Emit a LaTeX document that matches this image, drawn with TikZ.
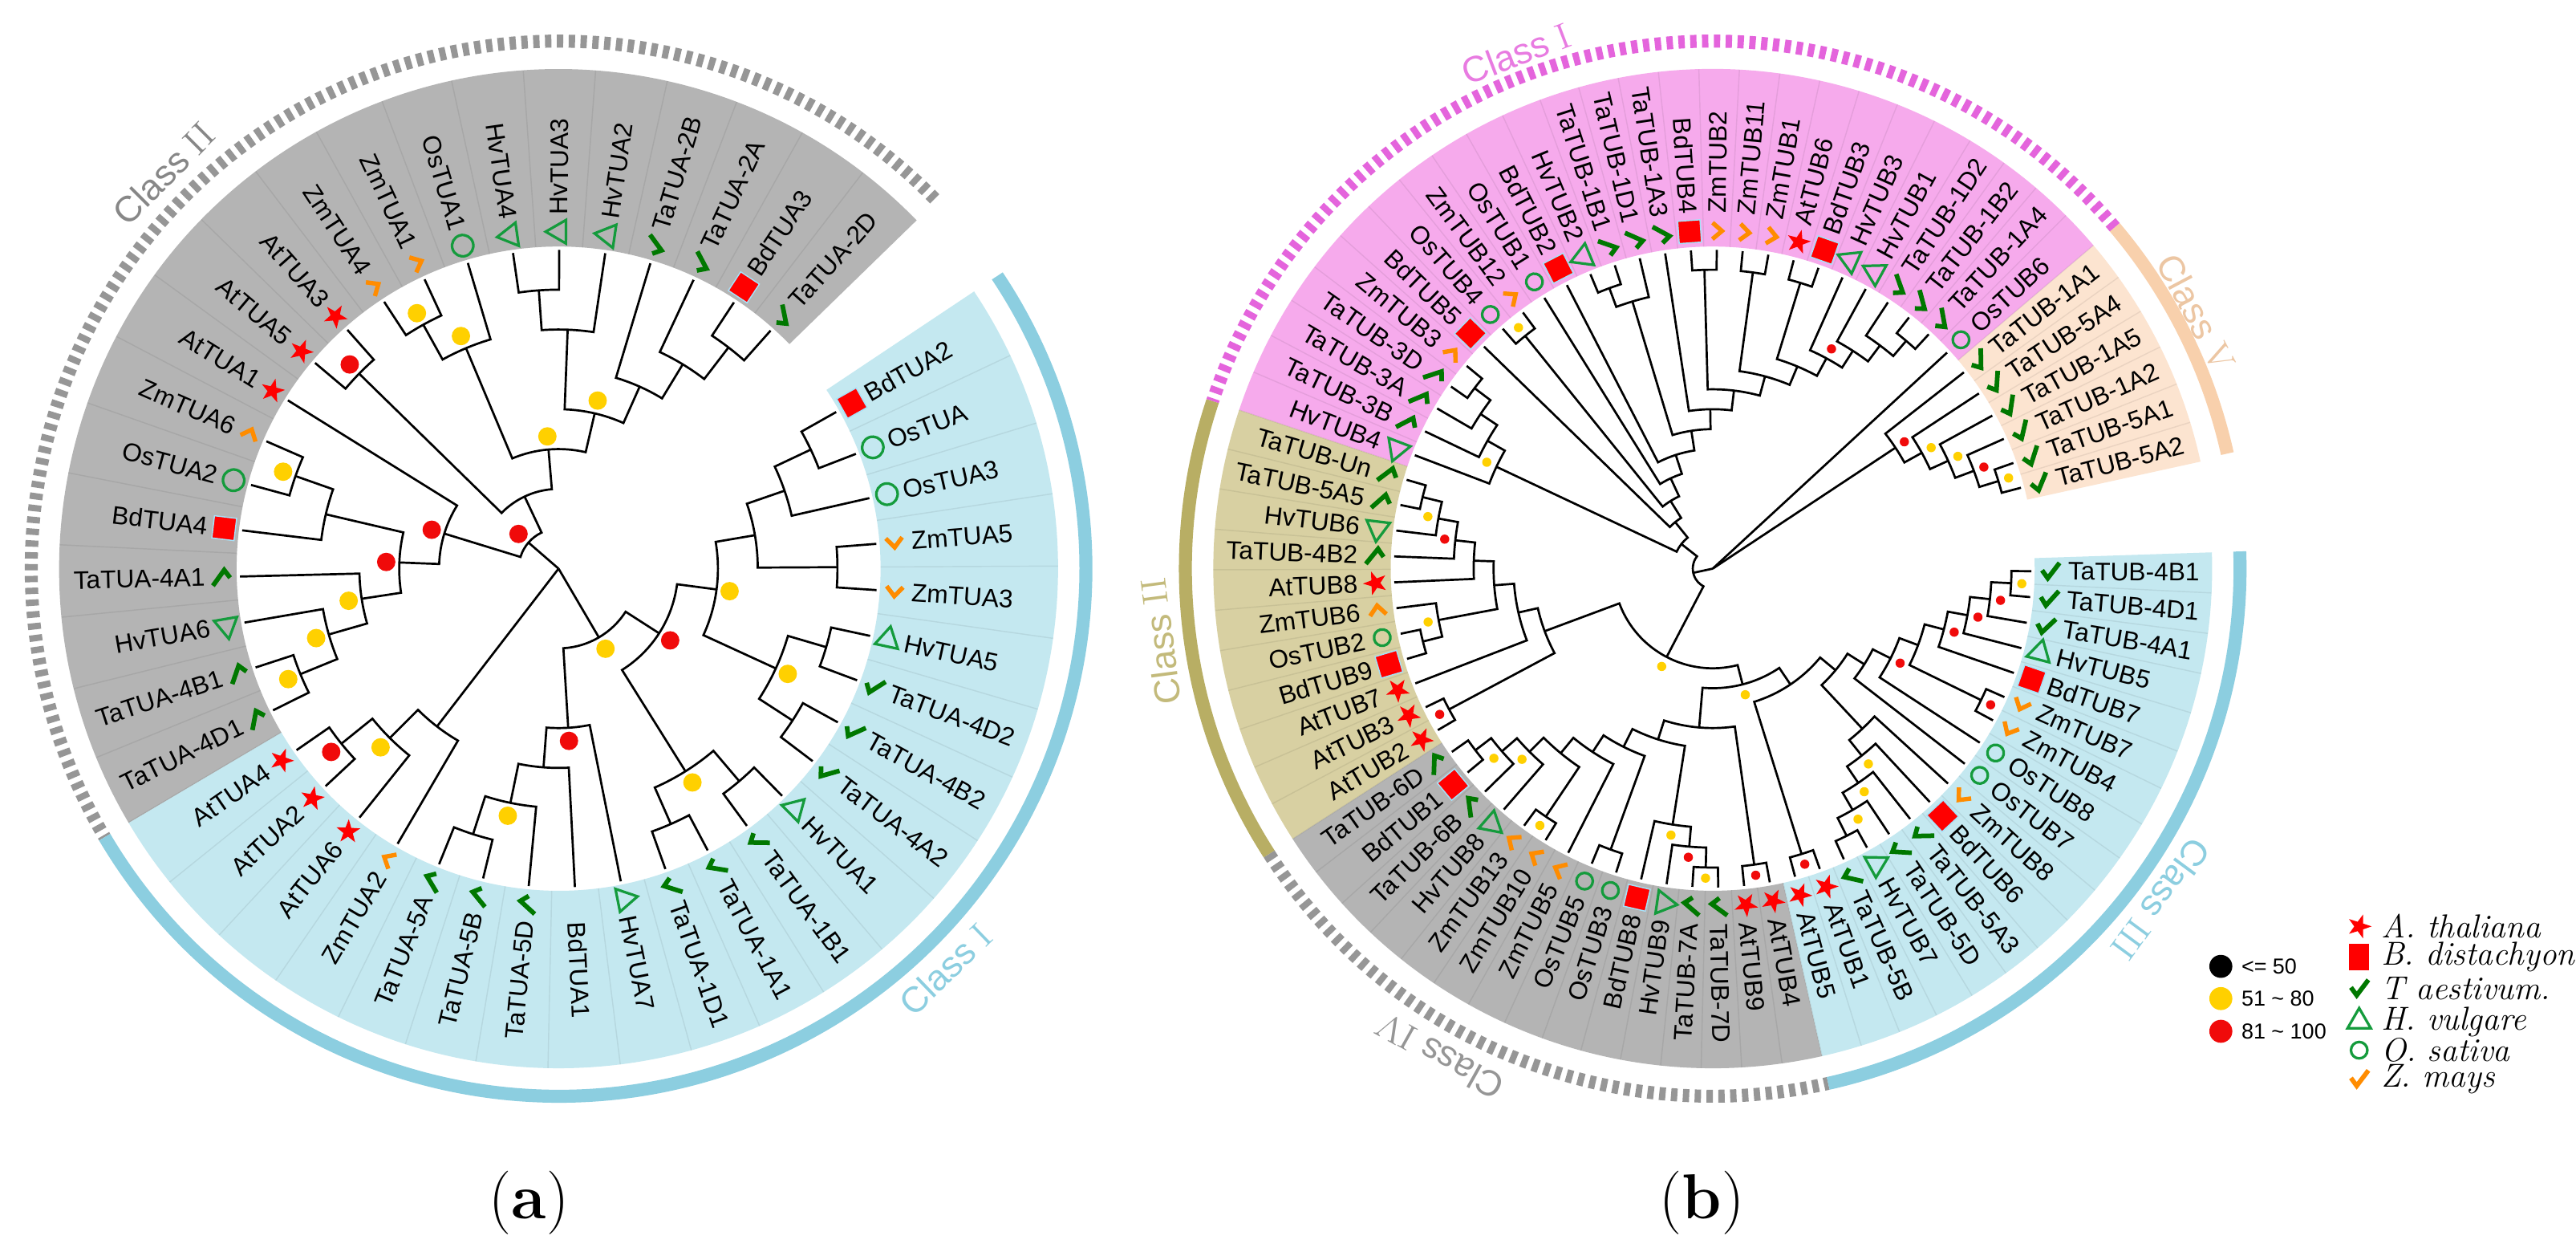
\documentclass[tikz,border=0pt]{standalone}
\usepackage{fontspec}
\newfontfamily\lab{Liberation Sans}
\usetikzlibrary{shapes.geometric}
\definecolor{mred}{RGB}{255,0,0}
\definecolor{mgreen}{RGB}{0,120,0}
\definecolor{ogreen}{RGB}{20,155,60}
\definecolor{morange}{RGB}{255,140,0}
\definecolor{dyel}{RGB}{255,208,0}
\definecolor{dred}{RGB}{240,10,10}
\definecolor{secgray}{RGB}{180,180,180}
\definecolor{secblue}{RGB}{196,232,240}
\definecolor{ringblue}{RGB}{140,206,224}
\definecolor{ringgray}{RGB}{150,150,150}
\definecolor{secpink}{RGB}{246,170,236}
\definecolor{ringpink}{RGB}{228,100,220}
\definecolor{secpeach}{RGB}{252,228,208}
\definecolor{ringpeach}{RGB}{248,208,172}
\definecolor{secolive}{RGB}{216,208,162}
\definecolor{ringolive}{RGB}{184,174,100}
\tikzset{
 br/.style={line width=0.75pt, line join=miter},
 lbl/.style={font=\lab\fontsize{8.8}{10}\selectfont, inner sep=0pt},
 sepl/.style={black, opacity=0.07, line width=0.4pt},
 cls/.style={font=\lab\fontsize{12.5}{14}\selectfont, inner sep=0pt},
 leg/.style={font=\lab\fontsize{7.5}{8}\selectfont, inner sep=0pt, anchor=west},
 spc/.style={font=\itshape\fontsize{11.5}{13}\selectfont, inner sep=0pt, anchor=west}
}
\newcommand\setleaf[2]{\expandafter\xdef\csname A@#1\endcsname{#2}\expandafter\xdef\csname H@#1\endcsname{0}}
\newcommand\mkchk{\draw[mgreen, line width=1.6pt, line join=miter] (-5,0.6) -- (-1.5,-4.2) -- (5.6,5.2);}
\newcommand\mkorg{\draw[morange, line width=1.5pt, line join=miter] (-5,2.8) -- (0,-3) -- (5,2.8);}
\newcommand\mkstar{\fill[mred] (0:7.6) -- (36:3) -- (72:7.6) -- (108:3) -- (144:7.6) -- (180:3) -- (216:7.6) -- (252:3) -- (288:7.6) -- (324:3) -- cycle;}
\newcommand\mksq{\fill[mred, draw=cyan!35, line width=0.4pt] (-6.8,-6.8) rectangle (6.8,6.8);}
\newcommand\mktri{\draw[ogreen, line width=0.9pt, line join=miter] (90:8.2) -- (210:8.2) -- (330:8.2) -- cycle;}
\newcommand\mkcirc{\draw[ogreen, line width=0.9pt] (0,0) circle[radius=\circr];}
\newcommand\mknone{}
\newcommand\mk[2]{\begin{scope}[shift={(#2:\Mr)},rotate=#2]\csname mk#1\endcsname\end{scope}}
\newcommand\lf[4]{%
  \pgfmathsetmacro\lfa{\Astart+\Astep*#2}%
  \setleaf{#1}{\lfa}%
  \coordinate (#1) at (\lfa:\Tip);%
  \mk{#4}{\lfa}%
  \pgfmathsetmacro\lfm{mod(\lfa,360)}%
  \pgfmathtruncatemacro\lff{and(\lfm>90,\lfm<\FlipHi)}%
  \ifnum\lff=1
    \pgfmathsetmacro\lfr{\lfm-180}%
    \node[lbl,anchor=east,rotate=\lfr] (t#1) at (\lfm:\Lr) {#3};%
  \else
    \node[lbl,anchor=west,rotate=\lfm] (t#1) at (\lfm:\Lr) {#3};%
  \fi}
\newcommand\jn[4][]{%
  \pgfmathsetmacro\jaa{\csname A@#3\endcsname}%
  \pgfmathsetmacro\jab{\csname A@#4\endcsname}%
  \pgfmathsetmacro\jha{\csname H@#3\endcsname}%
  \pgfmathsetmacro\jhb{\csname H@#4\endcsname}%
  \pgfmathsetmacro\jhn{max(\jha,\jhb)+1}%
  \pgfmathsetmacro\jrn{(\Hmax-\jhn)*\Unit}%
  \pgfmathsetmacro\jra{(\Hmax-\jha)*\Unit}%
  \pgfmathsetmacro\jrb{(\Hmax-\jhb)*\Unit}%
  \pgfmathsetmacro\jan{(\jaa+\jab)/2}%
  \draw[br] (\jaa:\jra) -- (\jaa:\jrn) arc[start angle=\jaa, end angle=\jab, radius=\jrn] -- (\jab:\jrb);%
  \coordinate (#2) at (\jan:\jrn);%
  \expandafter\xdef\csname A@#2\endcsname{\jan}%
  \expandafter\xdef\csname H@#2\endcsname{\jhn}%
  \if\relax\detokenize{#1}\relax\else
    \pgfmathsetmacro\jrd{\jrn+\Doff}%
    \fill[#1] (\jan:\jrd) circle[radius=\Drad];%
  \fi}
\newcommand\sector[3]{\fill[#1] (#2:196) arc[start angle=#2,end angle=#3,radius=196] -- (#3:304) arc[start angle=#3,end angle=#2,radius=304] -- cycle;}
\newcommand\ringsolid[3]{\draw[#1, line width=4.5pt] (#2:321) arc[start angle=#2,end angle=#3,radius=321];}
\newcommand\ringdash[3]{\draw[#1, line width=4.5pt, dash pattern=on 2.2pt off 1.9pt] (#2:321) arc[start angle=#2,end angle=#3,radius=321];}

\begin{document}
\begin{tikzpicture}[x=0.02cm,y=0.02cm]
\useasboundingbox (0,0) rectangle (1568,764);
\fill[white] (0,0) rectangle (1568,764);

%================ TREE (a) =================
\begin{scope}[shift={(340,418)}]
\def\Hmax{8}\def\Unit{24.25}\def\Tip{194}\def\Mr{205}\def\Lr{215}\def\FlipHi{270}
\def\Doff{8}\def\Drad{5.6}\def\circr{6.5}
\def\Astart{48.3}\def\Astep{8.32}
\sector{secgray}{44.2}{210.6}
\sector{secblue}{210.6}{393.7}
\foreach \i in {0,...,40} {\pgfmathsetmacro\sa{48.3+8.32*(\i+0.5)}\draw[sepl] (\sa:196) -- (\sa:304);}
\ringdash{ringgray}{44.5}{210.6}
\ringsolid{ringblue}{210.6}{393.7}
\node[cls, text=ringgray!90!black, rotate=45] (clsA2) at (135:340) {Class {\rmfamily II}};
\node[cls, text=ringblue, rotate=44] (clsA1) at (-46:339) {Class {\rmfamily I}};
\coordinate (aroot) at (0,0);
\lf{a0}{0}{TaTUA-2D}{chk}
\lf{a1}{1}{BdTUA3}{sq}
\lf{a2}{2}{TaTUA-2A}{chk}
\lf{a3}{3}{TaTUA-2B}{chk}
\lf{a4}{4}{HvTUA2}{tri}
\lf{a5}{5}{HvTUA3}{tri}
\lf{a6}{6}{HvTUA4}{tri}
\lf{a7}{7}{OsTUA1}{circ}
\lf{a8}{8}{ZmTUA1}{org}
\lf{a9}{9}{ZmTUA4}{org}
\lf{a10}{10}{AtTUA3}{star}
\lf{a11}{11}{AtTUA5}{star}
\lf{a12}{12}{AtTUA1}{star}
\lf{a13}{13}{ZmTUA6}{org}
\lf{a14}{14}{OsTUA2}{circ}
\lf{a15}{15}{BdTUA4}{sq}
\lf{a16}{16}{TaTUA-4A1}{chk}
\lf{a17}{17}{HvTUA6}{tri}
\lf{a18}{18}{TaTUA-4B1}{chk}
\lf{a19}{19}{TaTUA-4D1}{chk}
\lf{a20}{20}{AtTUA4}{star}
\lf{a21}{21}{AtTUA2}{star}
\lf{a22}{22}{AtTUA6}{star}
\lf{a23}{23}{ZmTUA2}{org}
\lf{a24}{24}{TaTUA-5A}{chk}
\lf{a25}{25}{TaTUA-5B}{chk}
\lf{a26}{26}{TaTUA-5D}{chk}
\lf{a27}{27}{BdTUA1}{none}
\lf{a28}{28}{HvTUA7}{tri}
\lf{a29}{29}{TaTUA-1D1}{chk}
\lf{a30}{30}{TaTUA-1A1}{chk}
\lf{a31}{31}{TaTUA-1B1}{chk}
\lf{a32}{32}{HvTUA1}{tri}
\lf{a33}{33}{TaTUA-4A2}{chk}
\lf{a34}{34}{TaTUA-4B2}{chk}
\lf{a35}{35}{TaTUA-4D2}{chk}
\lf{a36}{36}{HvTUA5}{tri}
\lf{a37}{37}{ZmTUA3}{org}
\lf{a38}{38}{ZmTUA5}{org}
\lf{a39}{39}{OsTUA3}{circ}
\lf{a40}{40}{OsTUA}{circ}
\lf{a41}{41}{BdTUA2}{sq}
\jn[dred]{aAt35}{a10}{a11}
\jn[dyel]{aZm14}{a8}{a9}
\jn[dyel]{aOZ}{a7}{aZm14}
\jn{aHv34}{a5}{a6}
\jn{aL}{aHv34}{a4}
\jn{aBd3}{a0}{a1}
\jn{aT2A}{a2}{aBd3}
\jn{aT2B}{a3}{aT2A}
\jn[dyel]{aHT}{aL}{aT2B}
\jn[dyel]{aY2}{aOZ}{aHT}
\jn{aQ}{aAt35}{aY2}
\jn[dyel]{aY1}{a13}{a14}
\jn{aNBd4}{aY1}{a15}
\jn[dyel]{aN4B1}{a18}{a19}
\jn[dyel]{aNHv6}{a17}{aN4B1}
\jn[dyel]{aN4A1}{a16}{aNHv6}
\jn[dred]{aR3}{aNBd4}{aN4A1}
\jn[dred]{aR2}{a12}{aR3}
\jn[dred]{aR1}{aQ}{aR2}
\jn[dred]{aS1}{a20}{a21}
\jn[dyel]{aS2}{aS1}{a22}
\jn{aS}{aS2}{a23}
\jn{a5AB}{a24}{a25}
\jn[dyel]{a5D}{a5AB}{a26}
\jn{aC1a}{a5D}{a27}
\jn[dred]{aC1}{aC1a}{a28}
\jn{a1DA}{a29}{a30}
\jn{a1BH}{a31}{a32}
\jn[dyel]{aC3}{a1DA}{a1BH}
\jn{a4BA}{a33}{a34}
\jn{a4DH}{a35}{a36}
\jn[dyel]{aC5}{a4BA}{a4DH}
\jn{aZm35}{a37}{a38}
\jn{aBdOs}{a40}{a41}
\jn{aOs3}{a39}{aBdOs}
\jn{aOZm}{aOs3}{aZm35}
\jn[dyel]{aC4}{aOZm}{aC5}
\jn[dred]{aC2}{aC3}{aC4}
\jn[dyel]{aN1}{aC1}{aC2}
\draw[br] (aroot) -- (aR1);
\draw[br] (aroot) -- (aS);
\draw[br] (aroot) -- (aN1);
\end{scope}

%================ TREE (b) =================
\begin{scope}[shift={(1042.5,418)}]
\def\Hmax{16}\def\Unit{12.125}\def\Tip{194}\def\Mr{205.5}\def\Lr{216}\def\FlipHi{270}
\def\Doff{6.5}\def\Drad{2.8}\def\circr{5}
\def\Astart{14.7}\def\Astep{4.66}
\sector{secpeach}{12.37}{40.33}
\sector{secpink}{40.33}{161.49}
\sector{secolive}{161.49}{212.75}
\sector{secgray}{212.75}{282.65}
\sector{secblue}{282.65}{361.87}
\foreach \i in {0,...,73} {\pgfmathsetmacro\sa{14.7+4.66*(\i+0.5)}\draw[sepl] (\sa:196) -- (\sa:304);}
\ringsolid{ringpeach}{12.6}{40.33}
\ringdash{ringpink}{40.33}{161.49}
\ringsolid{ringolive}{161.49}{212.75}
\ringdash{ringgray}{212.75}{282.65}
\ringsolid{ringblue}{282.65}{361.87}
\node[cls, text=ringpink!85!white, rotate=20.9] (clsB1) at (110.9:335.5) {Class {\rmfamily I}};
\node[cls, text=ringpeach!95!black, rotate=-62.1] (clsB5) at (27.9:333) {Class {\rmfamily V}};
\node[cls, text=ringblue, rotate=-126.4] (clsB3) at (-36.4:339) {Class {\rmfamily III}};
\node[cls, text=ringgray, rotate=150.8] (clsB4) at (240.8:340) {Class {\rmfamily IV}};
\node[cls, text=ringolive!85!white, rotate=97.5] (clsB2) at (187.5:339) {Class {\rmfamily II}};
\coordinate (broot) at (0,0);
\lf{b0}{0}{TaTUB-5A2}{chk}
\lf{b1}{1}{TaTUB-5A1}{chk}
\lf{b2}{2}{TaTUB-1A2}{chk}
\lf{b3}{3}{TaTUB-1A5}{chk}
\lf{b4}{4}{TaTUB-5A4}{chk}
\lf{b5}{5}{TaTUB-1A1}{chk}
\lf{b6}{6}{OsTUB6}{circ}
\lf{b7}{7}{TaTUB-1A4}{chk}
\lf{b8}{8}{TaTUB-1B2}{chk}
\lf{b9}{9}{TaTUB-1D2}{chk}
\lf{b10}{10}{HvTUB1}{tri}
\lf{b11}{11}{HvTUB3}{tri}
\lf{b12}{12}{BdTUB3}{sq}
\lf{b13}{13}{AtTUB6}{star}
\lf{b14}{14}{ZmTUB1}{org}
\lf{b15}{15}{ZmTUB11}{org}
\lf{b16}{16}{ZmTUB2}{org}
\lf{b17}{17}{BdTUB4}{sq}
\lf{b18}{18}{TaTUB-1A3}{chk}
\lf{b19}{19}{TaTUB-1D1}{chk}
\lf{b20}{20}{TaTUB-1B1}{chk}
\lf{b21}{21}{HvTUB2}{tri}
\lf{b22}{22}{BdTUB2}{sq}
\lf{b23}{23}{OsTUB1}{circ}
\lf{b24}{24}{ZmTUB12}{org}
\lf{b25}{25}{OsTUB4}{circ}
\lf{b26}{26}{BdTUB5}{sq}
\lf{b27}{27}{ZmTUB3}{org}
\lf{b28}{28}{TaTUB-3D}{chk}
\lf{b29}{29}{TaTUB-3A}{chk}
\lf{b30}{30}{TaTUB-3B}{chk}
\lf{b31}{31}{HvTUB4}{tri}
\lf{b32}{32}{TaTUB-Un}{chk}
\lf{b33}{33}{TaTUB-5A5}{chk}
\lf{b34}{34}{HvTUB6}{tri}
\lf{b35}{35}{TaTUB-4B2}{chk}
\lf{b36}{36}{AtTUB8}{star}
\lf{b37}{37}{ZmTUB6}{org}
\lf{b38}{38}{OsTUB2}{circ}
\lf{b39}{39}{BdTUB9}{sq}
\lf{b40}{40}{AtTUB7}{star}
\lf{b41}{41}{AtTUB3}{star}
\lf{b42}{42}{AtTUB2}{star}
\lf{b43}{43}{TaTUB-6D}{chk}
\lf{b44}{44}{BdTUB1}{sq}
\lf{b45}{45}{TaTUB-6B}{chk}
\lf{b46}{46}{HvTUB8}{tri}
\lf{b47}{47}{ZmTUB13}{org}
\lf{b48}{48}{ZmTUB10}{org}
\lf{b49}{49}{ZmTUB5}{org}
\lf{b50}{50}{OsTUB5}{circ}
\lf{b51}{51}{OsTUB3}{circ}
\lf{b52}{52}{BdTUB8}{sq}
\lf{b53}{53}{HvTUB9}{tri}
\lf{b54}{54}{TaTUB-7A}{chk}
\lf{b55}{55}{TaTUB-7D}{chk}
\lf{b56}{56}{AtTUB9}{star}
\lf{b57}{57}{AtTUB4}{star}
\lf{b58}{58}{AtTUB5}{star}
\lf{b59}{59}{AtTUB1}{star}
\lf{b60}{60}{TaTUB-5B}{chk}
\lf{b61}{61}{HvTUB7}{tri}
\lf{b62}{62}{TaTUB-5D}{chk}
\lf{b63}{63}{TaTUB-5A3}{chk}
\lf{b64}{64}{BdTUB6}{sq}
\lf{b65}{65}{ZmTUB8}{org}
\lf{b66}{66}{OsTUB7}{circ}
\lf{b67}{67}{OsTUB8}{circ}
\lf{b68}{68}{ZmTUB4}{org}
\lf{b69}{69}{ZmTUB7}{org}
\lf{b70}{70}{BdTUB7}{sq}
\lf{b71}{71}{HvTUB5}{tri}
\lf{b72}{72}{TaTUB-4A1}{chk}
\lf{b73}{73}{TaTUB-4D1}{chk}
\lf{b74}{74}{TaTUB-4B1}{chk}
\jn[dyel]{bV1}{b0}{b1}
\jn[dred]{bV2}{b2}{bV1}
\jn[dyel]{bV3}{b3}{bV2}
\jn[dyel]{bV4}{b4}{bV3}
\jn[dred]{bV5}{b5}{bV4}
\jn{bb1}{b7}{b8}
\jn{bb2}{b9}{bb1}
\jn{bb3}{b10}{bb2}
\jn[dred]{bb4}{b11}{bb3}
\jn{bb5}{b12}{b13}
\jn{bb6}{bb4}{bb5}
\jn{bb7}{b14}{b15}
\jn{bb8}{bb7}{bb6}
\jn{bb9}{b16}{b17}
\jn{bb10}{bb9}{bb8}
\jn{bb11}{b18}{bb10}
\jn{bb12}{b20}{b21}
\jn{bb13}{b19}{bb12}
\jn{bb14}{bb13}{bb11}
\jn{bb15}{b22}{bb14}
\jn{bb16}{b23}{bb15}
\jn[dyel]{bb17}{b24}{b25}
\jn{bb18}{bb17}{bb16}
\jn{bb19}{b26}{bb18}
\jn{bc1}{b27}{b28}
\jn{bc2}{b29}{bc1}
\jn{bc3}{b30}{bc2}
\jn[dyel]{bc4}{b31}{bc3}
\jn{bb20}{bc4}{bb19}
\jn{bII15}{b32}{b33}
\jn[dyel]{bII14}{b34}{bII15}
\jn[dred]{bII13}{b35}{bII14}
\jn{bII12}{b36}{bII13}
\jn{bOB}{b38}{b39}
\jn[dyel]{bN14}{b37}{bOB}
\jn{bII11}{bII12}{bN14}
\jn{bII10}{b40}{bII11}
\jn[dred]{bAA}{b41}{b42}
\jn{bII9}{bII10}{bAA}
\jn{bA1}{b43}{b44}
\jn[dyel]{bA2}{bA1}{b45}
\jn[dyel]{bA3}{bA2}{b46}
\jn[dyel]{bZZ}{b47}{b48}
\jn{bA4}{bA3}{bZZ}
\jn{bA5}{bA4}{b49}
\jn{bOO}{b50}{b51}
\jn{bA6}{bA5}{bOO}
\jn[dyel]{b7AD}{b54}{b55}
\jn[dred]{bH9}{b53}{b7AD}
\jn[dyel]{bX7}{b52}{bH9}
\jn{bA7}{bA6}{bX7}
\jn[dred]{bAt94}{b56}{b57}
\jn{bA8}{bA7}{bAt94}
\jn{bP1}{b60}{b61}
\jn[dyel]{bP2}{b62}{bP1}
\jn[dyel]{bP3}{b63}{bP2}
\jn[dyel]{bP4}{b64}{bP3}
\jn{bP5}{b65}{bP4}
\jn[dyel]{bQ1}{b73}{b74}
\jn[dred]{bQ2}{b72}{bQ1}
\jn[dred]{bQ3}{b71}{bQ2}
\jn[dred]{bQ4}{b70}{bQ3}
\jn[dred]{bZ}{b68}{b69}
\jn{bQ5}{bZ}{bQ4}
\jn[dred]{bQ6}{b67}{bQ5}
\jn{bQ7}{b66}{bQ6}
\jn{bPQ}{bP5}{bQ7}
\jn[dred]{bAt51}{b58}{b59}
\jn{bIII}{bAt51}{bPQ}
\jn[dyel]{bD}{bA8}{bIII}
\jn[dyel]{bE}{bII9}{bD}
\jn{bF}{bb20}{bE}
\draw[br] (broot) -- (bF);
\draw[br] (broot) -- (bV5);
\draw[br] (broot) -- (b6);
\end{scope}

%================ legend =================
\fill[black] (1351.8,176) circle[radius=7];
\fill[dyel] (1351.8,156.4) circle[radius=7];
\fill[dred] (1351.8,136.5) circle[radius=7];
\node[leg] (lg1) at (1364,176) {<= 50};
\node[leg] (lg2) at (1364,156.4) {51 \textasciitilde{} 80};
\node[leg] (lg3) at (1364,136.5) {81 \textasciitilde{} 100};
\def\circr{5}
\begin{scope}[shift={(1436,200.3)}]\mkstar\end{scope}
\begin{scope}[shift={(1436,181.5)}]\fill[mred] (-6,-8) rectangle (6,8);\end{scope}
\begin{scope}[shift={(1436,162.6)}]\mkchk\end{scope}
\begin{scope}[shift={(1436,142.4)}]\mktri\end{scope}
\begin{scope}[shift={(1436,125)}]\mkcirc\end{scope}
\begin{scope}[shift={(1436,107.5)}]\draw[morange, line width=1.6pt, line join=miter] (-5,0.6) -- (-1.5,-4.2) -- (5.6,5.2);\end{scope}
\node[spc] (sp1) at (1449,200.3) {A. thaliana};
\node[spc] (sp2) at (1449,181.5) {B. distachyon};
\node[spc] (sp3) at (1449,162.6) {T aestivum.};
\node[spc] (sp4) at (1449,142.4) {H. vulgare};
\node[spc] (sp5) at (1449,125) {O. sativa};
\node[spc] (sp6) at (1449,107.5) {Z. mays};

%================ panel labels =================
\node[font=\fontsize{22}{26}\selectfont, inner sep=0pt] (pa) at (322,32) {(\textbf{a})};
\node[font=\fontsize{22}{26}\selectfont, inner sep=0pt] (pb) at (1036,32) {(\textbf{b})};
\end{tikzpicture}
\end{document}
